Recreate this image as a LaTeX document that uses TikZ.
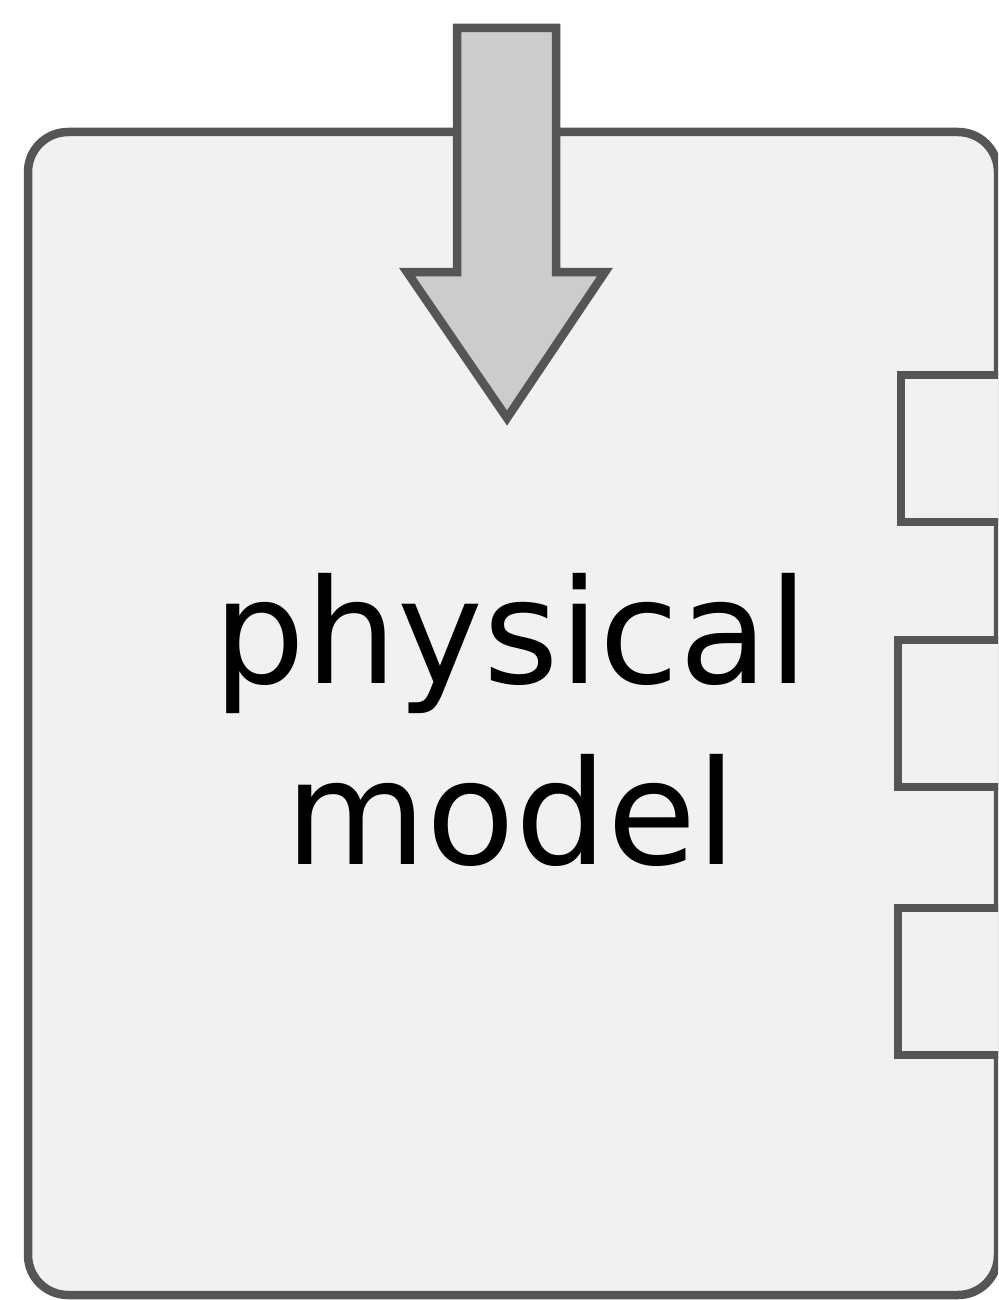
\documentclass[tikz,border=0pt]{standalone}
\usepackage{fontspec}
\setmainfont{DejaVu Sans}
\definecolor{edgegray}{HTML}{555555}
\definecolor{bodyfill}{HTML}{F1F1F1}
\definecolor{arrowfill}{HTML}{CCCCCC}
\begin{document}
\begin{tikzpicture}[x=1pt,y=-1pt,
  outline/.style={draw=edgegray,line width=8.5pt,line join=miter},
  labeltext/.style={font=\fontsize{145}{181}\selectfont,anchor=base,inner sep=0pt,text=black}]
\useasboundingbox (0,0) rectangle (998,1300);
\clip (0,0) rectangle (998,1300);
% component body
\draw[outline,fill=bodyfill,rounded corners=40pt] (28,132) rectangle (998,1295);
% ports on the right side
\coordinate (p1a) at (901,375); \coordinate (p1b) at (1040,522);
\coordinate (p2a) at (898,640); \coordinate (p2b) at (1040,787);
\coordinate (p3a) at (898,908); \coordinate (p3b) at (1040,1055);
\draw[outline,fill=bodyfill] (p1a) rectangle (p1b);
\draw[outline,fill=bodyfill] (p2a) rectangle (p2b);
\draw[outline,fill=bodyfill] (p3a) rectangle (p3b);
% input arrow
\draw[outline,fill=arrowfill] (457,28) -- (556,28) -- (556,272) -- (605,272)
  -- (507,418) -- (407,272) -- (457,272) -- cycle;
% label
\node[labeltext] (l1) at (511,683) {physical};
\node[labeltext] (l2) at (511,864) {model};
\end{tikzpicture}
\end{document}
